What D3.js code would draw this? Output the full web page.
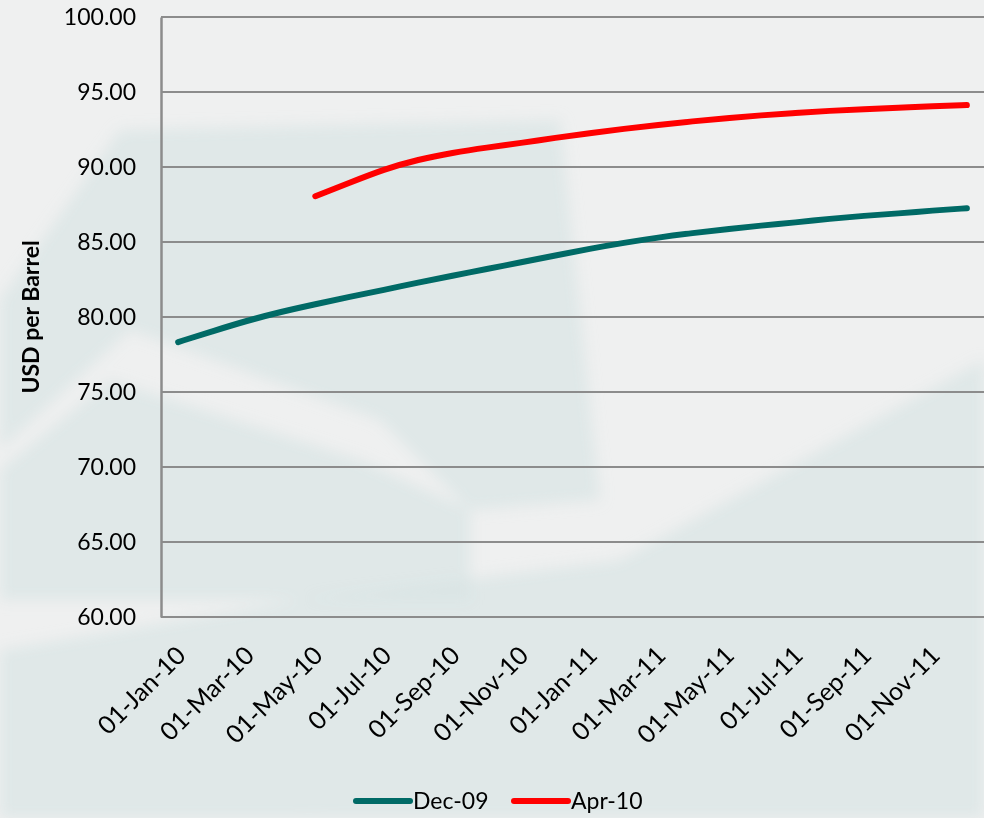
<!DOCTYPE html>
<html>
<head>
<meta charset="utf-8">
<script src="https://cdn.jsdelivr.net/npm/d3@7"></script>
<style>
  body { margin: 0; background: #eef0f0; }
  svg { display: block; font-family: Lato, "Open Sans", sans-serif; }
  .grid line { stroke: #8c8c8c; stroke-width: 2; }
  .tick text { fill: #000; font-family: Lato, "Open Sans", sans-serif; }
</style>
</head>
<body>
<div id="chart"></div>
<script>
var months = ['Jan-10', 'Feb-10', 'Mar-10', 'Apr-10', 'May-10', 'Jun-10', 'Jul-10', 'Aug-10',
  'Sep-10', 'Oct-10', 'Nov-10', 'Dec-10', 'Jan-11', 'Feb-11', 'Mar-11', 'Apr-11', 'May-11',
  'Jun-11', 'Jul-11', 'Aug-11', 'Sep-11', 'Oct-11', 'Nov-11', 'Dec-11']

// forward curve as at Dec-09
var dec09 = [78.33, 79.05, 79.75, 80.35, 80.85, 81.35, 81.8, 82.3, 82.75, 83.2, 83.65, 84.1,
  84.55, 84.95, 85.3, 85.6, 85.85, 86.1, 86.3, 86.55, 86.75, 86.9, 87.1, 87.25]

// forward curve as at Apr-10 (starts May-10)
var apr10 = [null, null, null, null, 88.05, 88.95, 89.85, 90.5, 90.95, 91.3, 91.6, 91.95,
  92.25, 92.55, 92.8, 93.05, 93.25, 93.45, 93.6, 93.75, 93.85, 93.95, 94.05, 94.13]

var yTicks = [60, 65, 70, 75, 80, 85, 90, 95, 100]
var xLabelMonths = ['Jan-10', 'Mar-10', 'May-10', 'Jul-10', 'Sep-10', 'Nov-10',
  'Jan-11', 'Mar-11', 'May-11', 'Jul-11', 'Sep-11', 'Nov-11']

var series = [
  { name: 'Dec-09', values: dec09, color: '#006a66' },
  { name: 'Apr-10', values: apr10, color: '#ff0000' }
]

var W = 984, H = 818
var margin = { top: 17, right: 0, bottom: 201, left: 161 }
var w = W - margin.left - margin.right
var h = H - margin.top - margin.bottom

var svg = d3.select('#chart').append('svg')
  .attr('width', W)
  .attr('height', H)

// faint watermark shapes in the background
var defs = svg.append('defs')
defs.append('filter').attr('id', 'soft')
  .attr('x', '-10%').attr('y', '-10%').attr('width', '120%').attr('height', '120%')
  .append('feGaussianBlur').attr('stdDeviation', 7)

var bg = svg.append('g').attr('class', 'watermark')
bg.append('rect').attr('width', W).attr('height', H).attr('fill', '#eff0f0')
var shade = '#d5e2e2'
var shapes = [
  [[0, 300], [120, 130], [560, 120], [600, 500], [470, 510], [380, 420], [130, 330], [0, 450]],
  [[0, 470], [110, 380], [360, 460], [470, 510], [470, 600], [0, 600]],
  [[300, 818], [620, 560], [984, 360], [984, 818]],
  [[0, 650], [300, 600], [620, 560], [300, 818], [0, 818]]
]
bg.append('g').attr('filter', 'url(#soft)')
  .selectAll('polygon').data(shapes).enter().append('polygon')
  .attr('points', function (d) { return d.join(' ') })
  .attr('fill', shade)
  .attr('opacity', 0.6)

var x = d3.scaleBand().domain(months).range([0, w])
var y = d3.scaleLinear().domain([60, 100]).range([h, 0])
var cx = function (m) { return x(m) + x.bandwidth() / 2 }

var g = svg.append('g')
  .attr('transform', 'translate(' + margin.left + ',' + margin.top + ')')

// horizontal gridlines
g.append('g').attr('class', 'grid')
  .selectAll('line').data(yTicks).enter().append('line')
  .attr('x1', 0).attr('x2', w)
  .attr('y1', function (d) { return y(d) })
  .attr('y2', function (d) { return y(d) })

// y axis
var yAxis = g.append('g')
  .call(d3.axisLeft(y).tickValues(yTicks).tickSize(0).tickPadding(25)
    .tickFormat(d3.format('.2f')))
yAxis.attr('font-family', null)
yAxis.select('.domain').attr('stroke', '#8c8c8c').attr('stroke-width', 2.5)
yAxis.selectAll('text').style('font-size', '23px').attr('dy', '0.34em')

// x axis (rotated month labels)
var xAxis = g.append('g')
  .attr('transform', 'translate(0,' + h + ')')
  .call(d3.axisBottom(x).tickValues(xLabelMonths).tickSize(0)
    .tickFormat(function (d) { return '01-' + d }))
xAxis.attr('font-family', null)
xAxis.select('.domain').remove()
xAxis.selectAll('text')
  .style('font-size', '25px')
  .attr('text-anchor', 'end')
  .attr('dy', 0)
  .attr('y', 0)
  .attr('transform', 'translate(9,40) rotate(-45)')

g.append('text')
  .attr('transform', 'translate(' + (39 - margin.left) + ',' + (317 - margin.top) + ') rotate(-90)')
  .attr('text-anchor', 'middle')
  .style('font-size', '23px')
  .style('font-weight', 'bold')
  .text('USD per Barrel')

var line = d3.line()
  .defined(function (d) { return d != null })
  .x(function (d, i) { return cx(months[i]) })
  .y(function (d) { return y(d) })
  .curve(d3.curveBasis)

g.selectAll('.series').data(series).enter().append('path')
  .attr('class', 'series')
  .attr('fill', 'none')
  .attr('stroke', function (d) { return d.color })
  .attr('stroke-width', 6)
  .attr('stroke-linecap', 'round')
  .attr('stroke-linejoin', 'round')
  .attr('d', function (d) { return line(d.values) })

// legend
var legend = svg.append('g').attr('class', 'legend')
var items = legend.selectAll('g').data(series).enter().append('g')
  .attr('transform', function (d, i) { return 'translate(' + (356 + i * 158) + ',801)' })
items.append('line')
  .attr('x1', 0).attr('x2', 54)
  .attr('stroke', function (d) { return d.color })
  .attr('stroke-width', 6)
  .attr('stroke-linecap', 'round')
items.append('text')
  .attr('x', 57)
  .attr('dy', '0.35em')
  .style('font-size', '23px')
  .text(function (d) { return d.name })
</script>
</body>
</html>
